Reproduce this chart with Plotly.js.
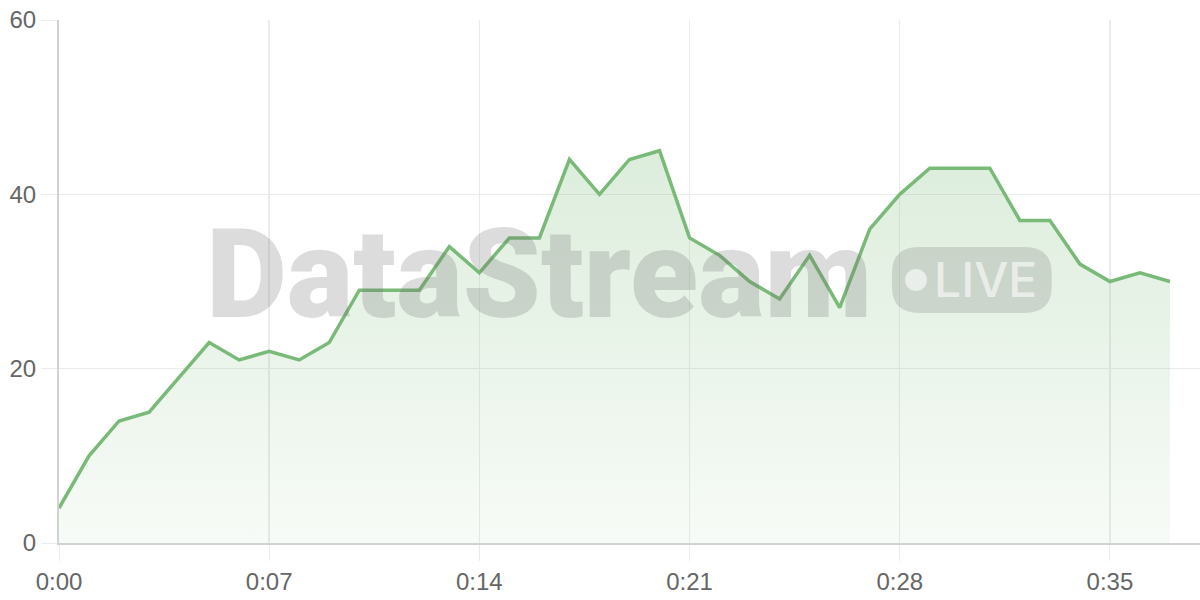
<!DOCTYPE html>
<html>
<head>
<meta charset="utf-8">
<script src="https://cdn.plot.ly/plotly-3.0.1.min.js"></script>
<style>
  html, body { margin: 0; padding: 0; background: #fff; }
  #chart { width: 1200px; height: 600px; }
</style>
</head>
<body>
<div id="chart"></div>
<script>
const seconds = [0, 1, 2, 3, 4, 5, 6, 7, 8, 9, 10, 11, 12, 13, 14, 15, 16, 17, 18, 19,
  20, 21, 22, 23, 24, 25, 26, 27, 28, 29, 30, 31, 32, 33, 34, 35, 36, 37];
const values = [4, 10, 14, 15, 19, 23, 21, 22, 21, 23, 29, 29, 29, 34, 31, 35, 35, 44, 40, 44,
  45, 35, 33, 30, 28, 33, 27, 36, 40, 43, 43, 43, 37, 37, 32, 30, 31, 30];
const xTickVals = [0, 7, 14, 21, 28, 35];
const xTickText = ["0:00", "0:07", "0:14", "0:21", "0:28", "0:35"];
const yTickVals = [0, 20, 40, 60];

const green = "#7aba78";
const tickFont = { family: "Liberation Sans, Arial, sans-serif", size: 24, color: "#666" };

const data = [
  {
    x: seconds,
    y: values,
    type: "scatter",
    mode: "lines",
    line: { color: green, width: 3.5 },
    fill: "tozeroy",
    fillgradient: {
      type: "vertical",
      start: 0,
      stop: 45,
      colorscale: [
        [0, "rgba(122,186,120,0.06)"],
        [1, "rgba(122,186,120,0.26)"],
      ],
    },
    hoverinfo: "x+y",
  },
];

const layout = {
  width: 1200,
  height: 600,
  margin: { l: 59, r: 0, t: 20, b: 57 },
  paper_bgcolor: "#fff",
  plot_bgcolor: "#fff",
  showlegend: false,
  xaxis: {
    range: [0, 38],
    tickmode: "array",
    tickvals: xTickVals,
    ticktext: xTickText,
    ticks: "outside",
    ticklen: 16,
    tickcolor: "#ebebeb",
    tickfont: tickFont,
    showgrid: true,
    gridcolor: "#ebebeb",
    gridwidth: 1.5,
    zeroline: false,
    showline: true,
    linecolor: "#d2d2d2",
    linewidth: 2,
    fixedrange: true,
  },
  yaxis: {
    range: [0, 60],
    tickmode: "array",
    tickvals: yTickVals,
    ticks: "outside",
    ticklen: 16,
    tickcolor: "#ebebeb",
    tickfont: tickFont,
    showgrid: true,
    gridcolor: "#ebebeb",
    gridwidth: 1.5,
    zeroline: false,
    showline: true,
    linecolor: "#d2d2d2",
    linewidth: 2,
    fixedrange: true,
  },
  shapes: [
    // rounded badge behind "LIVE"
    {
      type: "path",
      xref: "paper",
      yref: "paper",
      path: "M 0.754,0.566 L 0.846,0.566 Q 0.870,0.566 0.870,0.516 L 0.870,0.490 Q 0.870,0.440 0.846,0.440 L 0.754,0.440 Q 0.730,0.440 0.730,0.490 L 0.730,0.516 Q 0.730,0.566 0.754,0.566 Z",
      fillcolor: "rgba(110,110,110,0.22)",
      line: { width: 0 },
      layer: "above",
    },
    // live dot
    {
      type: "circle",
      xref: "paper",
      yref: "paper",
      x0: 0.7415,
      x1: 0.7607,
      y0: 0.482,
      y1: 0.524,
      fillcolor: "rgba(255,255,255,0.6)",
      line: { width: 0 },
      layer: "above",
    },
  ],
  annotations: [
    {
      xref: "paper",
      yref: "paper",
      x: 0.421,
      y: 0.513,
      xanchor: "center",
      yanchor: "middle",
      text: "DataStream",
      showarrow: false,
      font: { family: "Roboto, sans-serif", size: 125, weight: 900, color: "rgba(110,110,110,0.24)" },
    },
    {
      xref: "paper",
      yref: "paper",
      x: 0.8124,
      y: 0.503,
      xanchor: "center",
      yanchor: "middle",
      text: "LIVE",
      showarrow: false,
      font: { family: "Inter, sans-serif", size: 48, weight: 500, color: "rgba(255,255,255,0.6)" },
    },
  ],
};

Plotly.newPlot("chart", data, layout, { displayModeBar: false, staticPlot: true });
</script>
</body>
</html>
